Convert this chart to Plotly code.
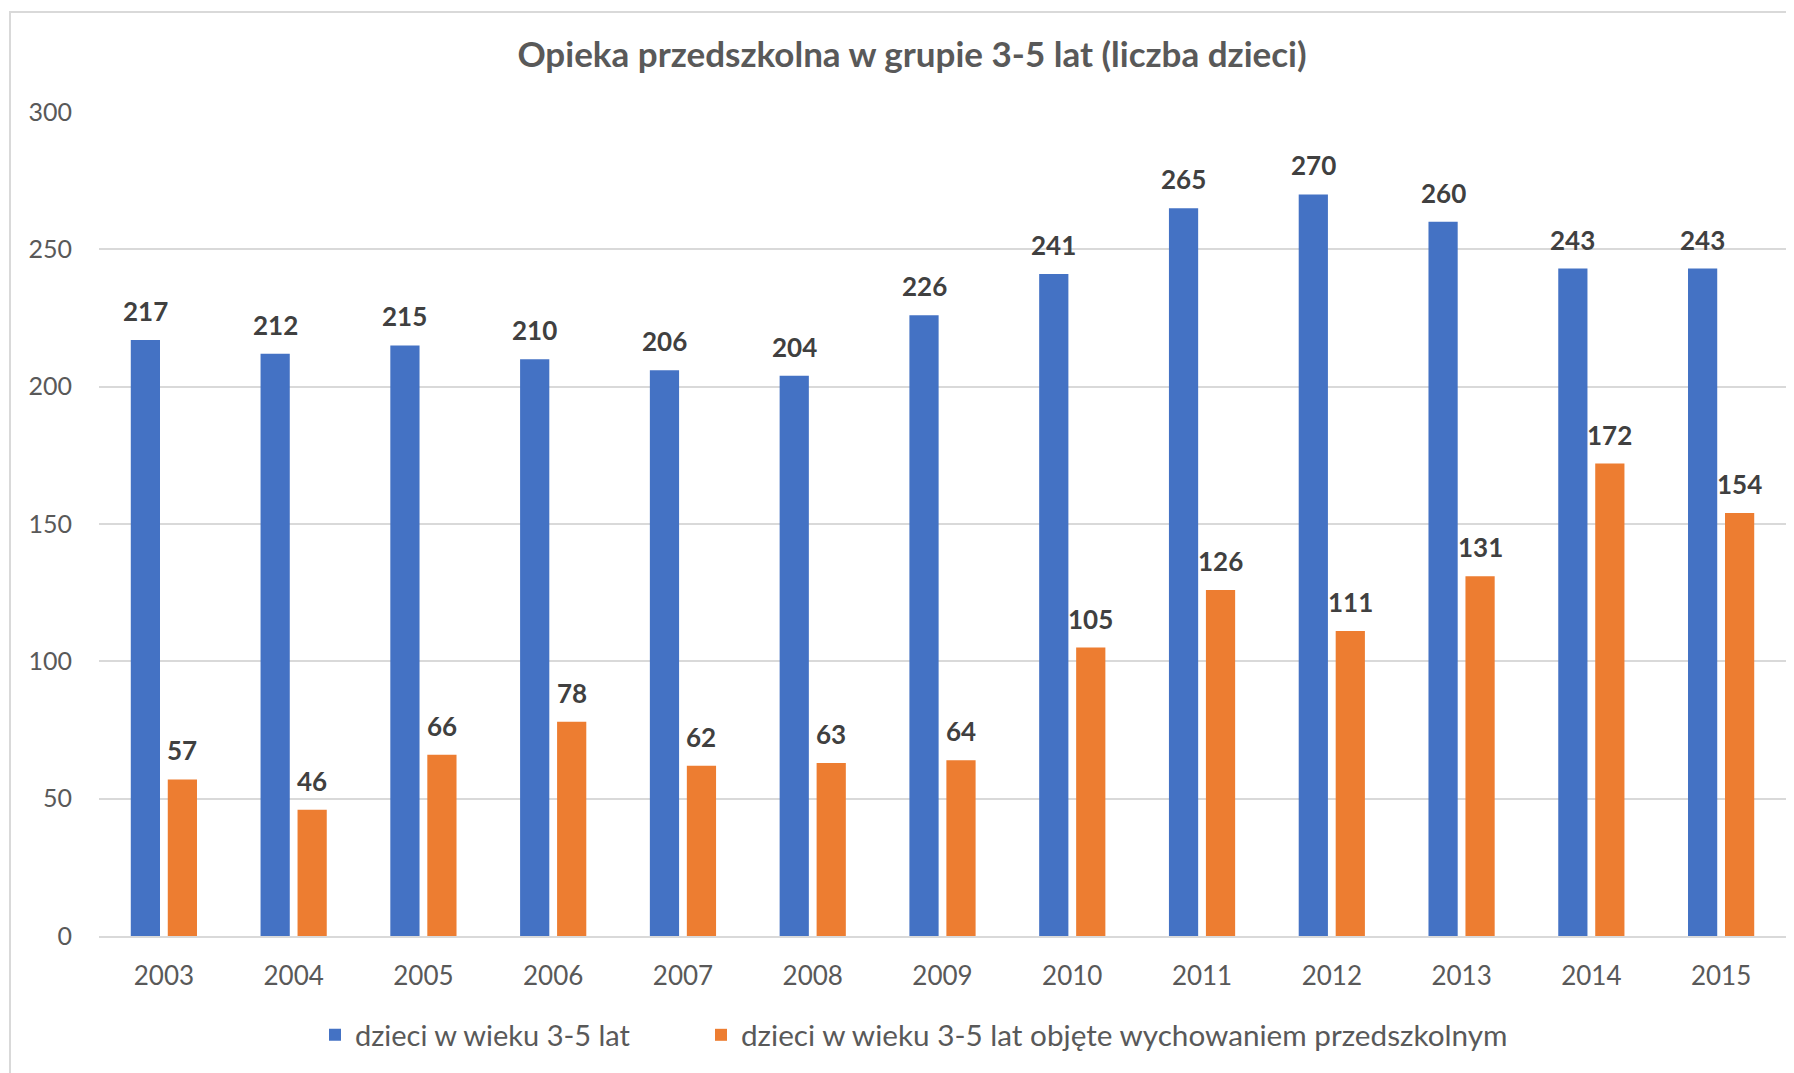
import plotly.graph_objects as go

years = ["2003", "2004", "2005", "2006", "2007", "2008", "2009",
         "2010", "2011", "2012", "2013", "2014", "2015"]
dzieci = [217, 212, 215, 210, 206, 204, 226, 241, 265, 270, 260, 243, 243]
objete = [57, 46, 66, 78, 62, 63, 64, 105, 126, 111, 131, 172, 154]
name_a = "dzieci w wieku 3-5 lat"
name_b = "dzieci w wieku 3-5 lat objęte wychowaniem przedszkolnym"
title = "Opieka przedszkolna w grupie 3-5 lat (liczba dzieci)"

# page body has an 8px margin; work in figure coordinates
W, H = 1786, 1065
L, R, T, B = 91, 8, 104, 137
pw, ph = W - L - R, H - T - B

FONT = "Lato"
BLUE = "#4472C4"
ORANGE = "#ED7D31"

fig = go.Figure()
fig.add_trace(go.Bar(x=years, y=dzieci, name=name_a, marker_color=BLUE,
                     marker_line_width=0, legend="legend"))
fig.add_trace(go.Bar(x=years, y=objete, name=name_b, marker_color=ORANGE,
                     marker_line_width=0, legend="legend2"))

ann = []
for ys, sh in ((dzieci, -18.5), (objete, 18.5)):
    for i, yv in enumerate(ys):
        ann.append(dict(x=i, y=yv, text=str(yv), showarrow=False, xref="x", yref="y",
                        xshift=sh, yanchor="bottom", yshift=11,
                        font=dict(family=FONT, size=26, color="#404040", weight="bold")))

leg_y = (T + ph - (1035 - 8)) / ph

fig.update_layout(
    width=W, height=H,
    margin=dict(l=L, r=R, t=T, b=B, pad=0),
    paper_bgcolor="white", plot_bgcolor="white",
    barmode="group", bargap=0.43, bargroupgap=0.21,
    title=dict(text=title, x=904 / W, xref="container", xanchor="center",
               y=1 - 47 / H, yref="container", yanchor="middle",
               font=dict(family=FONT, size=35, color="#595959", weight="bold")),
    font=dict(family=FONT, color="#595959"),
    showlegend=True,
    legend=dict(orientation="h", x=(307 - L) / pw, xanchor="left",
                y=leg_y, yanchor="middle", bgcolor="rgba(0,0,0,0)",
                font=dict(family=FONT, size=29, color="#595959")),
    legend2=dict(orientation="h", x=(693 - L) / pw, xanchor="left",
                 y=leg_y, yanchor="middle", bgcolor="rgba(0,0,0,0)",
                 font=dict(family=FONT, size=29.7, color="#595959")),
    annotations=ann,
    shapes=[dict(type="rect", xref="paper", yref="paper",
                 x0=(2 - L) / pw, x1=1.2, y0=-0.3, y1=(T + ph - 4) / ph,
                 line=dict(color="#d9d9d9", width=2), fillcolor="rgba(0,0,0,0)",
                 layer="below")],
)
fig.update_yaxes(range=[0, 300], dtick=50, showgrid=True, gridcolor="#d9d9d9",
                 gridwidth=2, zeroline=False, showline=False, ticks="",
                 ticklabelstandoff=26,
                 tickfont=dict(family=FONT, size=25, color="#595959"))
fig.update_xaxes(type="category", range=[-0.5, len(years) - 0.5],
                 showline=True, linecolor="#d9d9d9", linewidth=2,
                 ticks="", ticklabelstandoff=16,
                 tickfont=dict(family=FONT, size=26, color="#595959"))

fig.write_html("out.html")
